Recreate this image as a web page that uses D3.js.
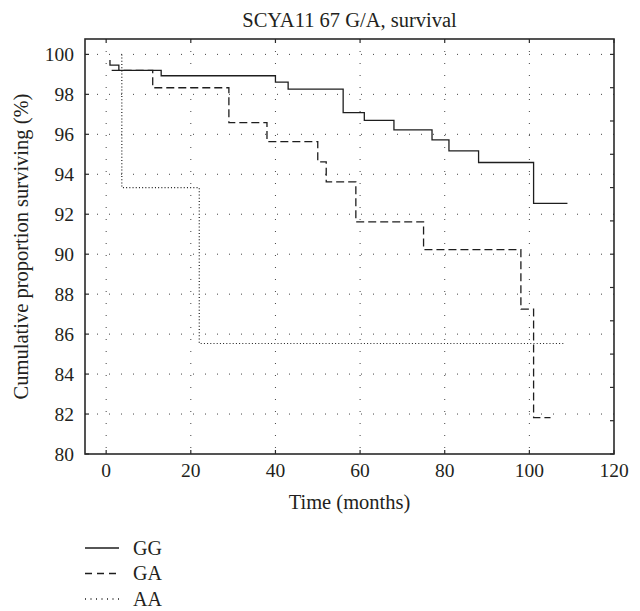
<!DOCTYPE html>
<html>
<head>
<meta charset="utf-8">
<script src="https://cdn.jsdelivr.net/npm/d3@7"></script>
<style>
  body { margin: 0; background: #fff; }
  text { font-family: "Liberation Serif", "DejaVu Serif", serif; fill: #231f20; }
</style>
</head>
<body>
<div id="chart"></div>
<script>
var title = "SCYA11 67 G/A, survival";
var xLabel = "Time (months)";
var yLabel = "Cumulative proportion surviving (%)";
var xTicks = [0, 20, 40, 60, 80, 100, 120];
var yTicks = [80, 82, 84, 86, 88, 90, 92, 94, 96, 98, 100];

var seriesNames = ["GG", "GA", "AA"];
// step points: time (months), cumulative survival (%)
var ggTime = [0.9, 0.9, 3.0, 13.0, 40.0, 43.0, 56.0, 61.0, 68.0, 77.0, 81.0, 88.0, 101.0, 109.0];
var ggSurv = [99.72, 99.46, 99.2, 98.93, 98.61, 98.26, 97.09, 96.7, 96.22, 95.72, 95.17, 94.59, 92.54, 92.54];
var gaTime = [1.3, 11.0, 29.0, 38.0, 50.0, 52.0, 59.0, 75.0, 98.0, 101.0, 105.0];
var gaSurv = [99.2, 98.33, 96.58, 95.63, 94.62, 93.62, 91.62, 90.23, 87.25, 81.82, 81.82];
var aaTime = [3.7, 3.7, 22.0, 108.5];
var aaSurv = [100, 93.33, 85.53, 85.53];

var width = 640, height = 611;
var margin = {top: 39, left: 85, right: 26, bottom: 157};
var plotW = width - margin.left - margin.right;
var plotH = height - margin.top - margin.bottom;

var svg = d3.select("#chart").append("svg")
  .attr("width", width)
  .attr("height", height)
  .style("display", "block");

var xScale = d3.scaleLinear().domain([-5, 120]).range([margin.left, margin.left + plotW]);
var yScale = d3.scaleLinear().domain([80, 100.77]).range([margin.top + plotH, margin.top]);

// dotted grid
svg.append("g").selectAll("line.vg")
  .data(xTicks.filter(function(d){ return d < 120; }))
  .enter().append("line")
  .attr("x1", function(d){ return xScale(d); })
  .attr("x2", function(d){ return xScale(d); })
  .attr("y1", margin.top)
  .attr("y2", margin.top + plotH)
  .style("stroke", "#444")
  .style("stroke-width", 1)
  .style("stroke-dasharray", "1,11");

svg.append("g").selectAll("line.hg")
  .data(yTicks.filter(function(d){ return d > 80; }))
  .enter().append("line")
  .attr("x1", margin.left)
  .attr("x2", margin.left + plotW)
  .attr("y1", function(d){ return yScale(d); })
  .attr("y2", function(d){ return yScale(d); })
  .style("stroke", "#444")
  .style("stroke-width", 1)
  .style("stroke-dasharray", "1,11");

// curves
var line = d3.line()
  .x(function(d){ return xScale(d[0]); })
  .y(function(d){ return yScale(d[1]); })
  .curve(d3.curveStepAfter);

var series = [
  {name: seriesNames[0], pts: d3.zip(ggTime, ggSurv), dash: null, legDash: null, w: 1.3},
  {name: seriesNames[1], pts: d3.zip(gaTime, gaSurv), dash: "8,4", legDash: "7,5", w: 1.3},
  {name: seriesNames[2], pts: d3.zip(aaTime, aaSurv), dash: "1,2.2", legDash: "1,4.5", w: 1.2}
];

svg.append("g").selectAll("path")
  .data(series)
  .enter().append("path")
  .attr("d", function(d){ return line(d.pts); })
  .style("fill", "none")
  .style("stroke", "#1e1e1e")
  .style("stroke-width", function(d){ return d.w; })
  .style("stroke-dasharray", function(d){ return d.dash; });

// frame
svg.append("rect")
  .attr("x", margin.left)
  .attr("y", margin.top)
  .attr("width", plotW)
  .attr("height", plotH)
  .style("fill", "none")
  .style("stroke", "#2a2a2a")
  .style("stroke-width", 1.6);

// inward ticks
var tk = svg.append("g").style("stroke", "#2a2a2a").style("stroke-width", 1.2);
xTicks.forEach(function(d){
  tk.append("line").attr("x1", xScale(d)).attr("x2", xScale(d))
    .attr("y1", margin.top + plotH).attr("y2", margin.top + plotH - 4);
  tk.append("line").attr("x1", xScale(d)).attr("x2", xScale(d))
    .attr("y1", margin.top).attr("y2", margin.top + 4);
});
yTicks.forEach(function(d){
  tk.append("line").attr("x1", margin.left).attr("x2", margin.left + 4)
    .attr("y1", yScale(d)).attr("y2", yScale(d));
});
d3.range(13).forEach(function(i){
  var v = 80 + i * 20 / 12;
  tk.append("line").attr("x1", margin.left + plotW).attr("x2", margin.left + plotW - 4)
    .attr("y1", yScale(v)).attr("y2", yScale(v));
});

// tick labels
svg.append("g").selectAll("text")
  .data(yTicks)
  .enter().append("text")
  .attr("x", margin.left - 11)
  .attr("y", function(d){ return yScale(d) + 6.5; })
  .attr("text-anchor", "end")
  .style("font-size", "19.5px")
  .text(function(d){ return d; });

svg.append("g").selectAll("text")
  .data(xTicks)
  .enter().append("text")
  .attr("x", function(d){ return xScale(d); })
  .attr("y", margin.top + plotH + 23)
  .attr("text-anchor", "middle")
  .style("font-size", "19.5px")
  .text(function(d){ return d; });

// titles
svg.append("text")
  .attr("x", margin.left + plotW / 2)
  .attr("y", 27)
  .attr("text-anchor", "middle")
  .style("font-size", "20.5px")
  .text(title);

svg.append("text")
  .attr("x", margin.left + plotW / 2)
  .attr("y", 508.5)
  .attr("text-anchor", "middle")
  .style("font-size", "20.5px")
  .text(xLabel);

svg.append("text")
  .attr("transform", "translate(28," + (margin.top + plotH / 2) + ") rotate(-90)")
  .attr("text-anchor", "middle")
  .style("font-size", "20.5px")
  .text(yLabel);

// legend
var leg = svg.append("g").selectAll("g")
  .data(series)
  .enter().append("g")
  .attr("transform", function(d, i){ return "translate(85," + (548 + i * 25.5) + ")"; });

leg.append("line")
  .attr("x1", 0).attr("x2", 34)
  .attr("y1", 0).attr("y2", 0)
  .style("stroke", "#1e1e1e")
  .style("stroke-width", 1.3)
  .style("stroke-dasharray", function(d){ return d.legDash; });

leg.append("text")
  .attr("x", 48)
  .attr("y", 6.5)
  .style("font-size", "20px")
  .text(function(d){ return d.name; });
</script>
</body>
</html>
